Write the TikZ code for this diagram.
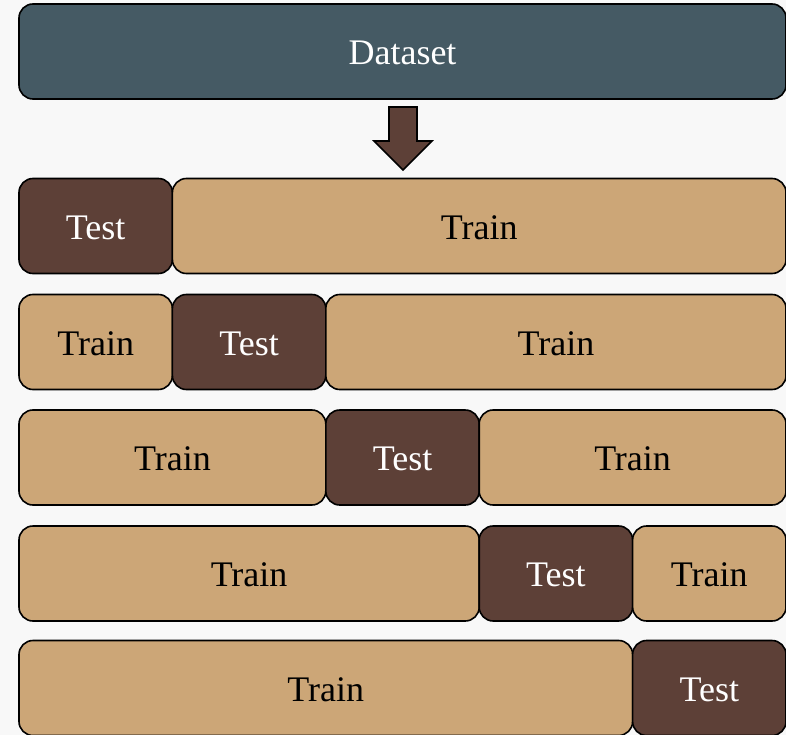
\documentclass[tikz,border=0pt]{standalone}
\usepackage{fontspec}
\setmainfont{Liberation Serif}
\usetikzlibrary{positioning}

\definecolor{bgGray}{HTML}{F8F8F8}
\definecolor{dataBlue}{HTML}{455A64}
\definecolor{testBrown}{HTML}{5D4037}
\definecolor{trainTan}{HTML}{CCA677}

\begin{document}
\begin{tikzpicture}[
        x=1pt, y=-1pt,
        box/.style={draw=black, line width=1.6pt, rounded corners=14pt,
            minimum height=95pt, inner sep=0pt, outer sep=0pt,
            text height=26.5pt, text depth=0pt,
            font=\fontsize{36}{40}\selectfont},
        cols/.style={minimum width=#1*153.4pt},
        test/.style={box, fill=testBrown, text=white},
        train/.style={box, fill=trainTan, text=black},
        data/.style={box, fill=dataBlue, text=white, minimum width=767pt},
        bigarrow/.style={draw=black, line width=1.6pt, fill=testBrown, miter limit=10},
    ]
    \fill[bgGray] (0,0) rectangle (786,735);
    \useasboundingbox (0,0) rectangle (786,735);

    \node[data, anchor=west](dataset) at (19,51.5){Dataset};

    % split arrow
    \coordinate (tip) at (403,170);
    \draw[bigarrow] (tip) -- ++(29,-29) -- ++(-15,0) -- ++(0,-34) -- ++(-28,0)
        -- ++(0,34) -- ++(-15,0) -- cycle;

    % fold 1
    \node[test, cols=1, anchor=west](t1) at (19,226){Test};
    \node[train, cols=4, right=0pt of t1](r1b){Train};
    % fold 2
    \node[train, cols=1, anchor=west](r2a) at (19,342){Train};
    \node[test, cols=1, right=0pt of r2a](t2){Test};
    \node[train, cols=3, right=0pt of t2](r2b){Train};
    % fold 3
    \node[train, cols=2, anchor=west](r3a) at (19,457.5){Train};
    \node[test, cols=1, right=0pt of r3a](t3){Test};
    \node[train, cols=2, right=0pt of t3](r3b){Train};
    % fold 4
    \node[train, cols=3, anchor=west](r4a) at (19,573.5){Train};
    \node[test, cols=1, right=0pt of r4a](t4){Test};
    \node[train, cols=1, right=0pt of t4](r4b){Train};
    % fold 5
    \node[train, cols=4, anchor=west](r5a) at (19,688){Train};
    \node[test, cols=1, right=0pt of r5a](t5){Test};
\end{tikzpicture}
\end{document}
